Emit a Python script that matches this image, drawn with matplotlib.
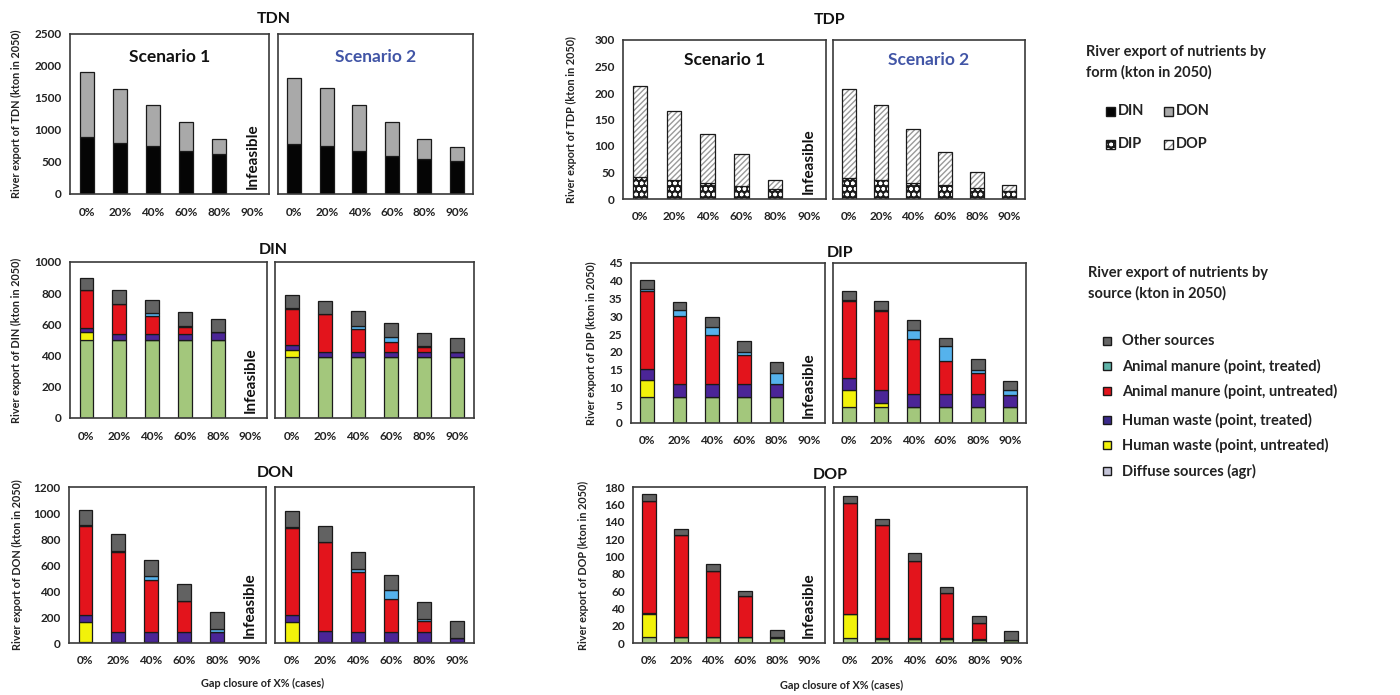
import numpy as np
import matplotlib
matplotlib.use("Agg")
import matplotlib.pyplot as plt
from matplotlib.patches import Rectangle

plt.rcParams['font.family'] = ['Lato', 'DejaVu Sans']
plt.rcParams['hatch.linewidth'] = 1.0

# ---------------- data ----------------
categories = ['0%', '20%', '40%', '60%', '80%', '90%']

# TDN panel (by form)
tdn_s1_din = [890, 800, 745, 670, 625]
tdn_s1_don = [1015, 840, 645, 455, 235]
tdn_s2_din = [786, 755, 677, 600, 547, 510]
tdn_s2_don = [1019, 903, 713, 530, 313, 220]

# TDP panel (by form)
tdp_s1_dip = [42, 36, 31, 25, 19]
tdp_s1_dop = [171, 130, 91, 60, 16]
tdp_s2_dip = [40, 36, 31, 26, 20, 15]
tdp_s2_dop = [167, 141, 102, 63, 30, 11]

source_names = ['Diffuse sources (agr)', 'Human waste (point, untreated)',
                'Human waste (point, treated)', 'Animal manure (point, untreated)',
                'Animal manure (point, treated)', 'Other sources']

# DIN by source (bottom -> top)
din_s1 = {
    'diffuse': [500, 500, 500, 500, 500],
    'hw_untr': [50, 0, 0, 0, 0],
    'hw_tr':   [28, 38, 40, 40, 50],
    'am_untr': [240, 190, 117, 42, 0],
    'am_tr':   [5, 5, 15, 5, 0],
    'other':   [76, 89, 82, 92, 82],
}
din_s2 = {
    'diffuse': [390, 390, 390, 390, 390, 390],
    'hw_untr': [47, 0, 0, 0, 0, 0],
    'hw_tr':   [28, 36, 32, 32, 32, 32],
    'am_untr': [235, 238, 150, 68, 36, 0],
    'am_tr':   [5, 5, 15, 28, 5, 0],
    'other':   [81, 78, 96, 90, 83, 90],
}
# DIP by source
dip_s1 = {
    'diffuse': [7.3, 7.3, 7.3, 7.3, 7.3],
    'hw_untr': [4.7, 0, 0, 0, 0],
    'hw_tr':   [3.2, 3.7, 3.7, 3.7, 3.7],
    'am_untr': [22.0, 19.0, 13.8, 8.2, 0],
    'am_tr':   [0.5, 1.7, 2.2, 0.7, 3.2],
    'other':   [2.4, 2.3, 2.7, 3.1, 2.9],
}
dip_s2 = {
    'diffuse': [4.5, 4.5, 4.5, 4.5, 4.5, 4.5],
    'hw_untr': [4.7, 1.1, 0, 0, 0, 0],
    'hw_tr':   [3.5, 3.8, 3.7, 3.7, 3.7, 3.5],
    'am_untr': [21.7, 22.0, 15.5, 9.1, 5.8, 0],
    'am_tr':   [0.3, 0.3, 2.5, 4.3, 1.0, 1.2],
    'other':   [2.5, 2.5, 2.8, 2.3, 3.0, 2.7],
}
# DON by source
don_s1 = {
    'diffuse': [10, 10, 10, 10, 10],
    'hw_untr': [150, 0, 0, 0, 0],
    'hw_tr':   [52, 73, 73, 73, 73],
    'am_untr': [688, 619, 400, 240, 0],
    'am_tr':   [4, 4, 30, 3, 25],
    'other':   [120, 130, 124, 126, 129],
}
don_s2 = {
    'diffuse': [10, 10, 10, 10, 10, 10],
    'hw_untr': [150, 0, 0, 0, 0, 0],
    'hw_tr':   [52, 85, 73, 73, 73, 26],
    'am_untr': [676, 679, 464, 258, 87, 0],
    'am_tr':   [4, 4, 26, 64, 13, 0],
    'other':   [127, 122, 129, 116, 132, 137],
}
# DOP by source
dop_s1 = {
    'diffuse': [7, 7, 7, 7, 6],
    'hw_untr': [27, 0, 0, 0, 0],
    'hw_tr':   [1, 0.5, 0.5, 0.5, 0.5],
    'am_untr': [129, 117, 76, 47, 0],
    'am_tr':   [0, 0, 0, 0, 0],
    'other':   [7.5, 7, 7.1, 5.8, 8.3],
}
dop_s2 = {
    'diffuse': [6, 5, 5, 5, 4, 3],
    'hw_untr': [27, 0, 0, 0, 0, 0],
    'hw_tr':   [1, 1, 0.5, 0.5, 0.5, 0.5],
    'am_untr': [127, 130, 89.5, 52, 19, 0],
    'am_tr':   [0, 0, 0, 0, 0, 0],
    'other':   [8.5, 7, 8.4, 7, 8, 10.5],
}

# ---------------- styles ----------------
W, H = 1400, 695
src_keys = ['diffuse', 'hw_untr', 'hw_tr', 'am_untr', 'am_tr', 'other']
src_colors = {'diffuse': '#a3c77c', 'hw_untr': '#f2f20a', 'hw_tr': '#4b2597',
              'am_untr': '#e3141c', 'am_tr': '#55b2ec', 'other': '#626262'}
EDGE = '#1a1a1a'
BW = 0.42
SC2_COLOR = '#4155a6'
DIP_HATCH = 'ooo'

fig = plt.figure(figsize=(W / 100, H / 100), dpi=100)


def px_axes(x0, x1, y0, y1):
    return fig.add_axes([x0 / W, 1 - y1 / H, (x1 - x0) / W, (y1 - y0) / H])


def style_ax(ax, ymax, yticks, show_y):
    ax.set_xlim(-0.5, 5.5)
    ax.set_ylim(0, ymax)
    ax.set_xticks(range(len(categories)))
    ax.set_xticklabels(categories, fontsize=8.5, fontweight='bold', color='#222222')
    ax.set_yticks(yticks)
    if show_y:
        ax.set_yticklabels([str(t) for t in yticks], fontsize=8.5, fontweight='bold',
                           color='#222222')
    else:
        ax.set_yticklabels([])
    ax.tick_params(axis='both', length=0)
    ax.tick_params(axis='x', pad=9)
    ax.tick_params(axis='y', pad=6)
    for s in ax.spines.values():
        s.set_color('#3a3a3a')
        s.set_linewidth(1.2)


def stacked_sources(ax, data):
    n = len(data['diffuse'])
    x = np.arange(n)
    bottom = np.zeros(n)
    for k in src_keys:
        vals = np.array(data[k], dtype=float)
        ax.bar(x, vals, BW, bottom=bottom, color=src_colors[k], edgecolor=EDGE,
               linewidth=0.9)
        bottom += vals


def form_bars_n(ax, din, don):
    x = np.arange(len(din))
    ax.bar(x, din, BW, color='#050505', edgecolor=EDGE, linewidth=0.9)
    ax.bar(x, don, BW, bottom=din, color='#a9a9a9', edgecolor=EDGE, linewidth=0.9)


def form_bars_p(ax, dip, dop):
    x = np.arange(len(dip))
    ax.bar(x, dip, BW, color='#1c1c1c', edgecolor='white', linewidth=0, hatch=DIP_HATCH)
    ax.bar(x, dip, BW, fill=False, edgecolor=EDGE, linewidth=0.9)
    ax.bar(x, dop, BW, bottom=dip, color='white', edgecolor='#9a9a9a', linewidth=0,
           hatch='//////')
    ax.bar(x, dop, BW, bottom=dip, fill=False, edgecolor=EDGE, linewidth=0.9)


def infeasible(ax):
    ax.text(5, 0.03, 'Infeasible', rotation=90, ha='center', va='bottom',
            fontsize=11, fontweight='bold', color='#111111',
            transform=ax.get_xaxis_transform())


# ---------------- panels ----------------
panels = [
    ('TDN', (70, 269), (278, 473), (34, 194), 2500, [0, 500, 1000, 1500, 2000, 2500], 16, (274, 19)),
    ('TDP', (623, 826), (833, 1025), (40, 199), 300, [0, 50, 100, 150, 200, 250, 300], 571, (830, 20)),
    ('DIN', (70, 267), (275, 474), (262, 418), 1000, [0, 200, 400, 600, 800, 1000], 16, (273, 250)),
    ('DIP', (631, 825), (833, 1026), (263, 423), 45, [0, 5, 10, 15, 20, 25, 30, 35, 40, 45], 591, (840, 253)),
    ('DON', (69, 266), (275, 474), (487, 643), 1200, [0, 200, 400, 600, 800, 1000, 1200], 17, (275, 473)),
    ('DOP', (633, 825), (834, 1027), (487, 643), 180, [0, 20, 40, 60, 80, 100, 120, 140, 160, 180], 583, (830, 475)),
]

panel_data = {
    'DIN': (din_s1, din_s2), 'DIP': (dip_s1, dip_s2),
    'DON': (don_s1, don_s2), 'DOP': (dop_s1, dop_s2),
}

for name, lb, rb, yr, ymax, ticks, ylx, tpos in panels:
    ax1 = px_axes(lb[0], lb[1], yr[0], yr[1])
    ax2 = px_axes(rb[0], rb[1], yr[0], yr[1])
    if name == 'TDN':
        form_bars_n(ax1, tdn_s1_din, tdn_s1_don)
        form_bars_n(ax2, tdn_s2_din, tdn_s2_don)
    elif name == 'TDP':
        form_bars_p(ax1, tdp_s1_dip, tdp_s1_dop)
        form_bars_p(ax2, tdp_s2_dip, tdp_s2_dop)
    else:
        d1, d2 = panel_data[name]
        stacked_sources(ax1, d1)
        stacked_sources(ax2, d2)
    style_ax(ax1, ymax, ticks, True)
    style_ax(ax2, ymax, ticks, False)
    infeasible(ax1)
    if name in ('TDN', 'TDP'):
        sy = 1 - (57 - yr[0]) / (yr[1] - yr[0]) if name == 'TDN' else 1 - (60 - yr[0]) / (yr[1] - yr[0])
        ax1.text(0.5, sy, 'Scenario 1', transform=ax1.transAxes, ha='center',
                 va='center', fontsize=12.5, fontweight='bold', color='#111111')
        ax2.text(0.5, sy, 'Scenario 2', transform=ax2.transAxes, ha='center',
                 va='center', fontsize=12.5, fontweight='bold', color=SC2_COLOR)
    fig.text(tpos[0] / W, 1 - tpos[1] / H, name, ha='center', va='center',
             fontsize=11.5, fontweight='bold', color='#111111')
    fig.text(ylx / W, 1 - ((yr[0] + yr[1]) / 2) / H,
             'River export of %s (kton in 2050)' % name, rotation=90,
             ha='center', va='center', fontsize=7.8, fontweight='bold', color='#222222')

fig.text(263 / W, 1 - 683 / H, 'Gap closure of X% (cases)', ha='center', va='center',
         fontsize=7.8, fontweight='bold', color='#222222')
fig.text(842 / W, 1 - 685 / H, 'Gap closure of X% (cases)', ha='center', va='center',
         fontsize=7.8, fontweight='bold', color='#222222')

# ---------------- legends (pixel overlay axes) ----------------
lg = fig.add_axes([0, 0, 1, 1])
lg.set_xlim(0, W)
lg.set_ylim(H, 0)
lg.axis('off')
lg.patch.set_alpha(0)

lg.text(1086, 45, 'River export of nutrients by\nform (kton in 2050)', ha='left',
        va='top', fontsize=10.5, fontweight='bold', color='#222222', linespacing=1.5)


def swatch(x, y, face, hatch=None, hcolor=None, s=9):
    if hatch:
        lg.add_patch(Rectangle((x, y - s / 2), s, s, facecolor=face, edgecolor=hcolor,
                               linewidth=0, hatch=hatch))
        lg.add_patch(Rectangle((x, y - s / 2), s, s, fill=False, edgecolor=EDGE,
                               linewidth=1))
    else:
        lg.add_patch(Rectangle((x, y - s / 2), s, s, facecolor=face, edgecolor=EDGE,
                               linewidth=1))


swatch(1106, 111, '#050505')
lg.text(1118, 111, 'DIN', va='center', ha='left', fontsize=10.5, fontweight='bold', color='#222')
swatch(1164, 111, '#a9a9a9')
lg.text(1176, 111, 'DON', va='center', ha='left', fontsize=10.5, fontweight='bold', color='#222')
swatch(1106, 144, '#1c1c1c', hatch=DIP_HATCH, hcolor='white')
lg.text(1118, 144, 'DIP', va='center', ha='left', fontsize=10.5, fontweight='bold', color='#222')
swatch(1164, 144, 'white', hatch='////', hcolor='#9a9a9a')
lg.text(1176, 144, 'DOP', va='center', ha='left', fontsize=10.5, fontweight='bold', color='#222')

lg.text(1088, 266, 'River export of nutrients by\nsource (kton in 2050)', ha='left',
        va='top', fontsize=10.5, fontweight='bold', color='#222222', linespacing=1.5)

legend_items = [
    ('Other sources', '#666666', 341),
    ('Animal manure (point, treated)', '#5fb3a8', 366),
    ('Animal manure (point, untreated)', '#e3141c', 391),
    ('Human waste (point, treated)', '#3a2a8a', 420),
    ('Human waste (point, untreated)', '#f2f20a', 445),
    ('Diffuse sources (agr)', '#c4c4d8', 471),
]
for label, col, yy in legend_items:
    swatch(1103, yy, col, s=8)
    lg.text(1122, yy, label, va='center', ha='left', fontsize=10.5, fontweight='bold',
            color='#222222')

fig.savefig('out.png', dpi=100, facecolor='white')
